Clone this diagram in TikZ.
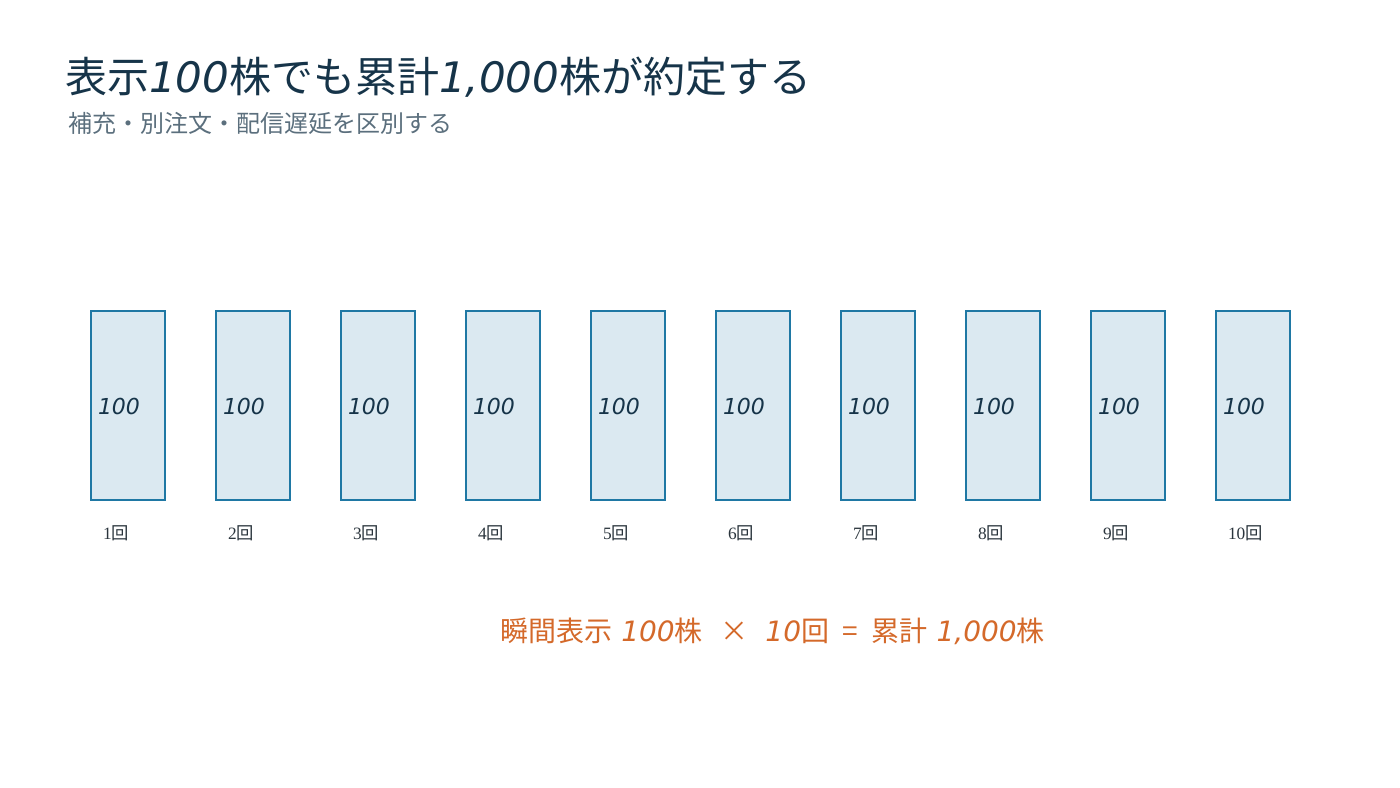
\documentclass[tikz,border=0pt]{standalone}
\usepackage{fontspec}
\setmainfont{Noto Sans CJK JP}
\newfontfamily\numfont{DejaVu Sans}
\newfontfamily\lblfont{Liberation Serif}
\usetikzlibrary{positioning}
\definecolor{titleblue}{HTML}{163449}
\definecolor{subgray}{HTML}{5B6F7D}
\definecolor{boxfill}{HTML}{DBE9F1}
\definecolor{boxline}{HTML}{1F78A4}
\definecolor{lblgray}{HTML}{2B353D}
\definecolor{sumorange}{HTML}{D4692A}
\newcommand{\itnum}[1]{{\numfont\itshape #1}}
\tikzset{every node/.append style={inner sep=0pt, outer sep=0pt}}

\begin{document}
\begin{tikzpicture}[x=0.75pt, y=-0.75pt,
    lotbox/.style={draw=boxline, fill=boxfill, line width=1.5pt,
        minimum width=55.5pt, minimum height=141.75pt, anchor=north west},
    lotnum/.style={anchor=west, text=titleblue, font=\fontsize{16.5}{18}\selectfont},
    roundlbl/.style={anchor=base west, text=lblgray, font=\fontsize{13}{15}\selectfont}]
    \useasboundingbox (0,0) rectangle (1400,788);
    % heading
    \node[anchor=base west, text=titleblue, font=\fontsize{31.5}{36}\selectfont] (title) at (65,93)
        {表示\itnum{100}株でも累計\itnum{1,000}株が約定する};
    \node[anchor=base west, text=subgray, font=\fontsize{18}{20}\selectfont] (subtitle) at (68,133)
        {補充・別注文・配信遅延を区別する};
    % the ten fills
    \foreach \i in {1,...,10}{
        \node[lotbox] (box\i) at ({91+(\i-1)*125},311) {};% visible slice
        \node[lotnum] (num\i) at ([xshift=5.25pt,yshift=-0.75pt]box\i.west) {\itnum{100}};% shown size
        \node[roundlbl] (lbl\i) at ([xshift=9pt,yshift=-29.5pt]box\i.south west)
            {{\lblfont\i}回};% fill count
    }
    % total
    \node[anchor=base west, text=sumorange, font=\fontsize{21}{24}\selectfont] (total) at (500,641)
        {瞬間表示\hspace{7pt}\itnum{100}株\hspace{13pt}×\hspace{13pt}\itnum{10}回\hspace{10pt}=\hspace{10pt}累計\hspace{7pt}\itnum{1,000}株};
\end{tikzpicture}
\end{document}
